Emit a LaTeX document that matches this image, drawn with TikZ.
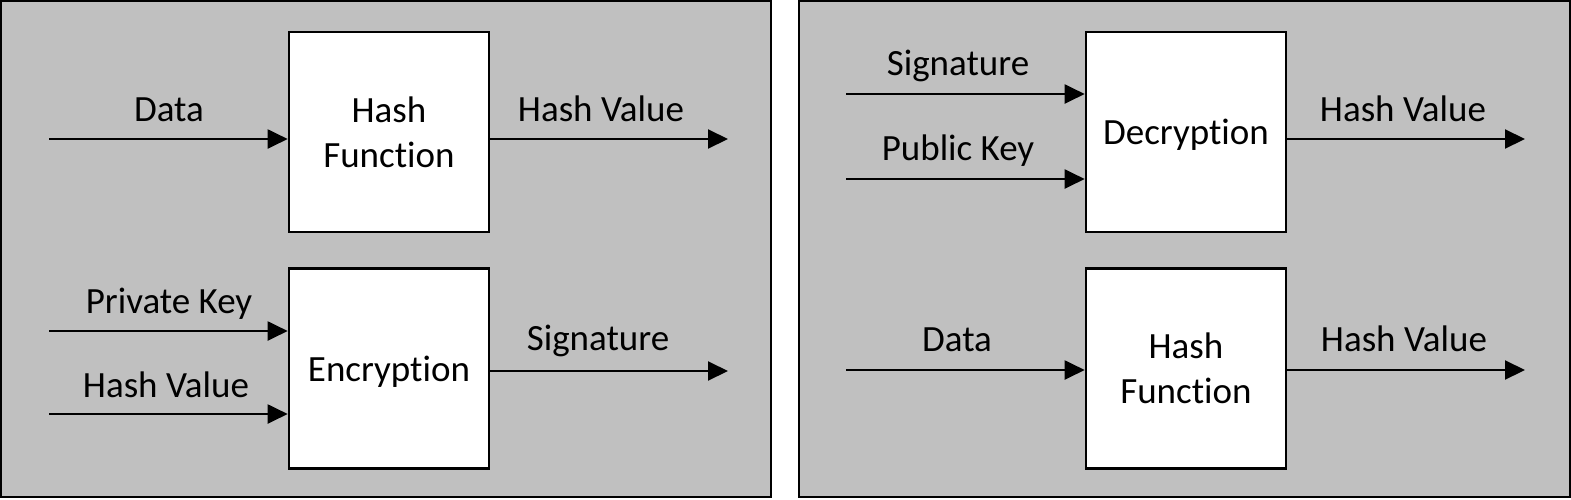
\documentclass[tikz,border=0pt]{standalone}
\usepackage{fontspec}
\setmainfont{Carlito}[Ligatures=NoCommon]
\usetikzlibrary{arrows.meta}
\definecolor{panelgray}{RGB}{192,192,192}
\begin{document}
\begin{tikzpicture}[x=1pt,y=-1pt,
 panel/.style={fill=panelgray,draw=black,line width=2pt},
 blk/.style={draw=black,fill=white,line width=2.6pt,minimum width=200pt,minimum height=200pt,inner sep=0pt,align=center,font=\fontsize{37}{45}\selectfont},
 oneline/.style={text depth=0pt},
 lbl/.style={anchor=base,inner sep=0pt,font=\fontsize{37}{45}\selectfont},
 arr/.style={line width=2pt,-{Triangle[length=20pt,width=19pt]}}]
\useasboundingbox[fill=white] (0,0) rectangle (1571,499);
% panels
\draw[panel] (1,1) rectangle (770.5,497);
\draw[panel] (798.5,1) rectangle (1569.5,497);
% blocks
\node[blk] (hf1) at (389,132) {Hash\\Function};
\node[blk,oneline] (enc) at (389,368.5) {Encryption};
\node[blk,oneline] (dec) at (1186,132) {Decryption};
\node[blk] (hf2) at (1186,368.5) {Hash\\Function};
% free ends
\coordinate (d1) at (49,139);
\coordinate (h1) at (728,139);
\coordinate (pk) at (49,331);
\coordinate (hv) at (49,414);
\coordinate (sg) at (728,371);
\coordinate (s2) at (846,94);
\coordinate (pu) at (846,179);
\coordinate (h2) at (1525,139);
\coordinate (d2) at (846,370);
\coordinate (h3) at (1525,370);
% connectors
\draw[arr] (d1) -- (hf1.west |- d1);
\draw[arr] (hf1.east |- h1) -- (h1);
\draw[arr] (pk) -- (enc.west |- pk);
\draw[arr] (hv) -- (enc.west |- hv);
\draw[arr] (enc.east |- sg) -- (sg);
\draw[arr] (s2) -- (dec.west |- s2);
\draw[arr] (pu) -- (dec.west |- pu);
\draw[arr] (dec.east |- h2) -- (h2);
\draw[arr] (d2) -- (hf2.west |- d2);
\draw[arr] (hf2.east |- h3) -- (h3);
% labels
\node[lbl] (l1) at (169,121) {Data};
\node[lbl] (l2) at (601,121) {Hash Value};
\node[lbl] (l3) at (169,313) {Private Key};
\node[lbl] (l4) at (166,397) {Hash Value};
\node[lbl] (l5) at (598,350) {Signature};
\node[lbl] (l6) at (958,75) {Signature};
\node[lbl] (l7) at (958,160) {Public Key};
\node[lbl] (l8) at (1403,121) {Hash Value};
\node[lbl] (l9) at (957,351) {Data};
\node[lbl] (l10) at (1404,351) {Hash Value};
\end{tikzpicture}
\end{document}
